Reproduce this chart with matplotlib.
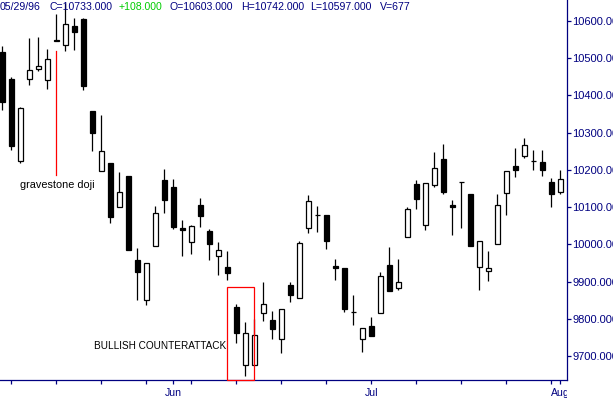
import numpy as np
import matplotlib
matplotlib.use('Agg')
import matplotlib.pyplot as plt
from matplotlib.patches import Rectangle
from matplotlib.transforms import Bbox, TransformedBbox

plt.rcParams['font.family'] = ['Liberation Sans', 'DejaVu Sans']

# daily candles (one per trading day)
opens = [10516, 10444, 10225, 10444, 10472, 10440, 10548, 10535, 10587, 10605,
         10359, 10196, 10219, 10101, 10184, 9959, 9850, 9996, 10174, 10155,
         10044, 10007, 10107, 10037, 9969, 9939, 9831, 9677, 9677, 9815,
         9796, 9746, 9890, 9857, 10044, 10080, 10080, 9942, 9937, 9819,
         9747, 9782, 9816, 9946, 9882, 10020, 10162, 10053, 10160, 10229,
         10107, 10168, 10136, 9940, 9928, 10001, 10138, 10210, 10237, 10224,
         10221, 10168, 10141]
highs = [10533, 10449, 10369, 10554, 10558, 10525, 10619, 10648, 10607, 10607,
         10359, 10348, 10219, 10195, 10184, 9989, 9951, 10104, 10203, 10176,
         10065, 10053, 10125, 10040, 10006, 9982, 9841, 9791, 9800, 9898,
         9822, 9827, 9900, 10008, 10132, 10104, 10080, 9962, 9937, 9863,
         9776, 9804, 9927, 9994, 9962, 10101, 10174, 10166, 10247, 10270,
         10120, 10168, 10136, 10008, 9981, 10136, 10198, 10260, 10286, 10253,
         10253, 10178, 10200]
lows = [10360, 10254, 10219, 10429, 10466, 10418, 10545, 10520, 10522, 10415,
        10250, 10196, 10058, 10101, 9984, 9850, 9837, 9996, 10084, 10042,
        9968, 9973, 10046, 9957, 9917, 9904, 9735, 9646, 9677, 9794,
        9745, 9709, 9846, 9857, 10031, 10034, 9987, 9904, 9818, 9783,
        9711, 9754, 9816, 9874, 9877, 10020, 10095, 10038, 10153, 10134,
        10024, 10044, 9995, 9877, 9901, 10001, 10078, 10180, 10231, 10199,
        10183, 10100, 10134]
closes = [10382, 10263, 10366, 10468, 10479, 10497, 10545, 10592, 10569, 10424,
          10298, 10251, 10073, 10141, 9984, 9925, 9951, 10084, 10118, 10046,
          10038, 10050, 10075, 10000, 9984, 9924, 9762, 9763, 9756, 9841,
          9772, 9827, 9864, 10005, 10117, 10080, 10008, 9936, 9827, 9819,
          9776, 9754, 9916, 9874, 9900, 10095, 10121, 10166, 10205, 10141,
          10100, 10168, 9995, 10008, 9937, 10106, 10198, 10199, 10267, 10224,
          10199, 10135, 10176]

week_ticks = [1, 6, 11, 16, 21, 26, 31, 36, 41, 46, 51, 56, 61]
month_ticks = [19, 41, 62]
month_labels = ['Jun', 'Jul', 'Aug']
price_ticks = [9700, 9800, 9900, 10000, 10100, 10200, 10300, 10400, 10500, 10600]

header = [('05/29/96', 0), ('C=10733.000', 49), ('+108.000', 119), ('O=10603.000', 170),
          ('H=10742.000', 241), ('L=10597.000', 310.5), ('V=677', 380)]

NAVY = '#000080'
W, H = 613, 399
AX_RIGHT = 566.7

fig = plt.figure(figsize=(W / 100, H / 100), dpi=100)
ax = fig.add_axes([0, 19 / H, AX_RIGHT / W, 380 / H])

x = np.arange(len(opens))
o = np.array(opens)
c = np.array(closes)

# wicks first, bodies on top
ax.vlines(x, lows, highs, color='black', linewidth=0.9, zorder=1)
up = c >= o
body_bottom = np.minimum(o, c)
body_height = np.abs(c - o)
ax.bar(x[up], body_height[up], bottom=body_bottom[up], width=0.5,
       facecolor='white', edgecolor='black', linewidth=0.9, zorder=2)
ax.bar(x[~up], body_height[~up], bottom=body_bottom[~up], width=0.5,
       facecolor='black', edgecolor='black', linewidth=0.9, zorder=2)

ax.set_xlim(-0.26, 62.71)
ax.set_ylim(9636, 10656)

# annotations
ax.plot([6, 6], [10518, 10185], color='red', linewidth=0.9)
ax.text(1.96, 10160, 'gravestone doji', fontsize=7.8, va='center', ha='left')
ax.add_patch(Rectangle((25.0, 9636), 2.93, 9886 - 9636, fill=False,
                       edgecolor='red', linewidth=0.9, clip_on=False, zorder=3))
ax.text(24.85, 9726, 'BULLISH COUNTERATTACK', fontsize=7.2, va='center', ha='right')

# axes styling
for side in ['left', 'top']:
    ax.spines[side].set_visible(False)
for side in ['right', 'bottom']:
    ax.spines[side].set_color(NAVY)
    ax.spines[side].set_linewidth(0.9)

ax.yaxis.tick_right()
ax.set_yticks(price_ticks)
ax.set_yticklabels(['%.3f' % p for p in price_ticks])
ax.tick_params(axis='y', colors=NAVY, labelsize=8, length=3, width=0.9, pad=1)

ax.set_xticks(week_ticks)
ax.set_xticks(month_ticks, minor=True)
ax.set_xticklabels([])
ax.tick_params(axis='x', which='both', colors=NAVY, length=3, width=0.9, direction='out')

clip = TransformedBbox(Bbox([[0, 0], [AX_RIGHT / W, 1]]), fig.transFigure)
for pos, lab in zip(month_ticks, month_labels):
    t = ax.text(pos, -13.3 / 380, lab, transform=ax.get_xaxis_transform(),
                ha='center', va='center', fontsize=7.6, color=NAVY, clip_on=True)
    t.set_clip_box(clip)

# header line
for txt, px in header:
    col = '#00cc00' if txt.startswith('+') else NAVY
    fig.text(px / W, 1 - 7.5 / H, txt, fontsize=7.6, color=col, va='center', ha='left')

fig.savefig('out.png', dpi=100)
